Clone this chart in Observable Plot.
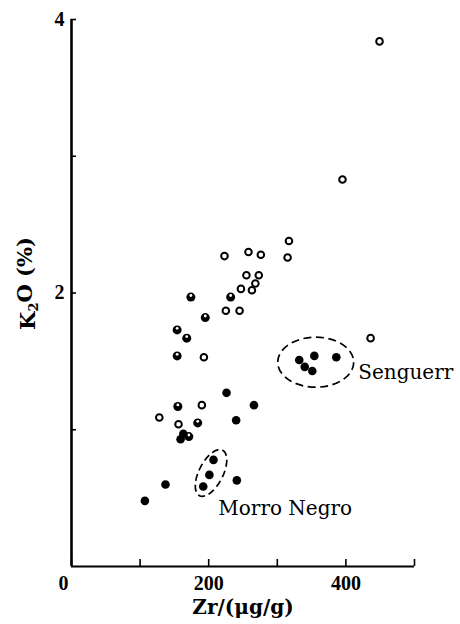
<!DOCTYPE html>
<html>
<head>
<meta charset="utf-8">
<script src="https://cdn.jsdelivr.net/npm/d3@7"></script>
<script src="https://cdn.jsdelivr.net/npm/@observablehq/plot@0.6"></script>
<style>
  html, body { margin: 0; padding: 0; background: #fff; }
</style>
</head>
<body>
<div id="chart"></div>
<script>
// Open circles
const openZr  = [449, 395, 436, 317, 315, 223, 258, 276, 255, 273, 268, 247, 263, 225, 245, 193, 190, 128, 156];
const openK2O = [3.84, 2.83, 1.67, 2.38, 2.26, 2.27, 2.30, 2.28, 2.13, 2.13, 2.07, 2.03, 2.02, 1.87, 1.87, 1.53, 1.18, 1.09, 1.04];
// Half-filled circles
const halfZr  = [174, 232, 195, 154, 168, 154, 155, 184, 171];
const halfK2O = [1.97, 1.97, 1.82, 1.73, 1.67, 1.54, 1.17, 1.05, 0.95];
// Filled circles
const fillZr  = [332, 340, 351, 354, 386, 226, 266, 240, 163, 159, 207, 201, 192, 241, 137, 107];
const fillK2O = [1.51, 1.46, 1.43, 1.54, 1.53, 1.27, 1.18, 1.07, 0.97, 0.93, 0.78, 0.67, 0.585, 0.63, 0.60, 0.48];

// Axis ticks and labels
const xTicks = [0, 100, 200, 300, 400, 500];
const xTickLabels = [200, 400];
const yTicks = [1, 2, 3, 4];
const yTickLabels = [2, 4];
const xTitle = "Zr/(μg/g)";
const yTitleParts = ["K", "2", "O (%)"]; // K₂O (%)
const yTitle = yTitleParts.join("");

// Group annotations (centre in data units)
const groupNames = ["Senguerr", "Morro Negro"];
const groupCentreZr = [356, 203.4];
const groupCentreK2O = [1.494, 0.684];
const groupLabelZr = [418, 214];
const groupLabelK2O = [1.42, 0.42];

const toPts = (xs, ys) => xs.map((x, i) => ({zr: x, k2o: ys[i]}));
const openPts = toPts(openZr, openK2O);
const halfPts = toPts(halfZr, halfK2O);
const fillPts = toPts(fillZr, fillK2O);
const groups = groupNames.map((n, i) => ({name: n, cz: groupCentreZr[i], ck: groupCentreK2O[i], lz: groupLabelZr[i], lk: groupLabelK2O[i]}));

function ellipseSymbol(aspect, angleDeg) {
  return {
    draw(context, size) {
      const rx = Math.sqrt(size / Math.PI), ry = rx / aspect;
      const a = angleDeg * Math.PI / 180, c = Math.cos(a), s = Math.sin(a);
      const k = 0.5523;
      const T = (x, y) => [x * c - y * s, x * s + y * c];
      const segs = [
        [[rx, k * ry], [k * rx, ry], [0, ry]],
        [[-k * rx, ry], [-rx, k * ry], [-rx, 0]],
        [[-rx, -k * ry], [-k * rx, -ry], [0, -ry]],
        [[k * rx, -ry], [rx, -k * ry], [rx, 0]]
      ];
      const p0 = T(rx, 0);
      context.moveTo(p0[0], p0[1]);
      for (const seg of segs) {
        const [a1, a2, a3] = seg.map(p => T(p[0], p[1]));
        context.bezierCurveTo(a1[0], a1[1], a2[0], a2[1], a3[0], a3[1]);
      }
      context.closePath();
    }
  };
}

const serif = "'DejaVu Serif', serif";
const tickFont = "'Liberation Serif', 'Times New Roman', serif";

const W = 460, H = 624, mL = 71, mR = 46, mT = 19, mB = 58;
const frameW = W - mL - mR, frameH = H - mT - mB;

const chart = Plot.plot({
  width: W,
  height: H,
  marginLeft: mL,
  marginRight: mR,
  marginTop: mT,
  marginBottom: mB,
  style: {fontFamily: tickFont, fontSize: "20px", fontWeight: "bold", color: "#000", background: "#fff"},
  x: {domain: [0, 500], axis: null},
  y: {domain: [0, 4], axis: null},
  marks: [
    // inward ticks
    Plot.tickX(xTicks, {x: d => d, insetTop: frameH - 7, stroke: "#000", strokeWidth: 1.6}),
    Plot.tickY(yTicks, {y: d => d, insetRight: frameW - 5, stroke: "#000", strokeWidth: 1.6}),
    // tick labels
    Plot.text(xTickLabels, {x: d => d, y: () => 0, text: d => String(d), dy: 17, fontSize: 20, fontWeight: "bold", fontFamily: tickFont}),
    Plot.text(yTickLabels, {x: () => 0, y: d => d, text: d => String(d), dx: -7, textAnchor: "end", fontSize: 20, fontWeight: "bold", fontFamily: tickFont}),
    Plot.text([0], {x: d => d, y: () => 0, text: d => String(d), dx: -8, dy: 17, fontSize: 20, fontWeight: "bold", fontFamily: tickFont}),
    // axis lines
    Plot.ruleX([0], {strokeWidth: 2.6}),
    Plot.ruleY([0], {strokeWidth: 2.2}),
    // axis titles
    Plot.text([xTitle], {text: d => d, frameAnchor: "bottom", dy: 47, fontSize: 20, fontWeight: "bold", fontFamily: serif}),
    Plot.text([yTitle], {text: d => d, frameAnchor: "left", textAnchor: "middle", lineAnchor: "middle", rotate: -90, fontSize: 21, fontWeight: "bold", fontFamily: serif}),
    // group ellipses
    Plot.dot(groups.slice(0, 1), {x: "cz", y: "ck", r: 38, symbol: ellipseSymbol(38 / 25, 0), stroke: "#000", strokeWidth: 1.7, strokeDasharray: "8,4.5", fill: "none"}),
    Plot.dot(groups.slice(1, 2), {x: "cz", y: "ck", r: 25.5, symbol: ellipseSymbol(25.5 / 12, -63), stroke: "#000", strokeWidth: 1.7, strokeDasharray: "7,4", fill: "none"}),
    Plot.text(groups, {x: "lz", y: "lk", text: "name", textAnchor: "start", lineAnchor: "middle", fontSize: 20, fontWeight: "normal", fontFamily: serif}),
    // points
    Plot.dot(openPts, {x: "zr", y: "k2o", r: 3.3, stroke: "#000", strokeWidth: 2, fill: "#fff"}),
    Plot.dot(halfPts, {x: "zr", y: "k2o", r: 4.5, fill: "#000", stroke: "none"}),
    Plot.dot(halfPts, {x: "zr", y: "k2o", r: 1.4, dy: -1.6, fill: "#fff", stroke: "none"}),
    Plot.dot(fillPts, {x: "zr", y: "k2o", r: 4.3, fill: "#000", stroke: "none"})
  ]
});

// render the "2" of K2O as a true subscript, and place the title left of the axis
d3.select(chart).selectAll("text").filter(function () { return this.textContent === yTitle; }).each(function () {
  const t = d3.select(this);
  t.text(null);
  t.attr("transform", "translate(34,283) rotate(-90)").attr("x", null).attr("y", null).attr("dx", null).attr("dy", null);
  t.append("tspan").text(yTitleParts[0]);
  t.append("tspan").attr("font-size", "0.62em").attr("dy", "0.3em").text(yTitleParts[1]);
  t.append("tspan").attr("dy", "-0.3em").text(yTitleParts[2]);
});

document.getElementById("chart").appendChild(chart);
</script>
</body>
</html>
